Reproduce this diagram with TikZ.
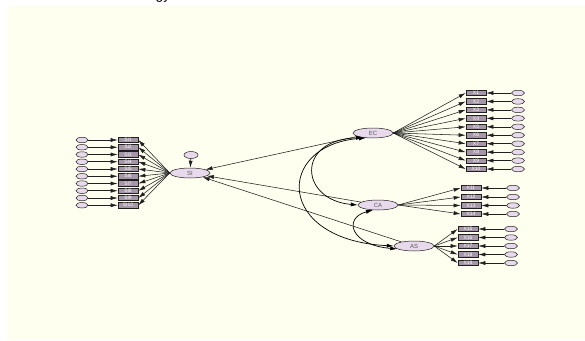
\documentclass[tikz,border=0pt]{standalone}
\usepackage{fontspec}
\setmainfont{Liberation Sans}
\usetikzlibrary{shapes.geometric,arrows.meta}
\definecolor{bgc}{HTML}{FEFFEE}
\definecolor{lav}{HTML}{E8DAEC}
\definecolor{boxc}{HTML}{A596A8}
\definecolor{edge}{HTML}{202020}
\tikzset{
  latent/.style={ellipse, draw=edge, line width=0.5pt, fill=lav, minimum width=40pt, minimum height=10pt, inner sep=0pt, font=\fontsize{6}{6}\selectfont, text=black!65},
  obs/.style={rectangle, draw=edge, line width=0.7pt, fill=boxc, minimum width=20pt, minimum height=5.5pt, inner sep=0pt, font=\fontsize{5}{5}\selectfont, text=white},
  errc/.style={ellipse, draw=edge, line width=0.5pt, fill=lav, minimum width=12pt, minimum height=5.5pt, inner sep=0pt},
  path/.style={draw=edge, line width=0.55pt, -{Latex[length=7pt,width=4pt]}},
  cov/.style={draw=black, line width=0.7pt, {Latex[length=7pt,width=4pt]}-{Latex[length=7pt,width=4pt]}}
}
\begin{document}
\begin{tikzpicture}[x=1pt,y=-1pt]
\useasboundingbox (0,0) rectangle (585,340);
\fill[white] (0,0) rectangle (585,340);
\fill[bgc] (7,6) rectangle (585,340);
\node[anchor=base, font=\fontsize{14}{14}\selectfont] (ttl) at (163,-1) {gy};
% latent variables
\node[latent] (SI) at (190,173) {SI};
\node[latent] (EC) at (373,133) {EC};
\node[latent] (CA) at (378,205) {CA};
\node[latent] (AS) at (414,246) {AS};
\node[errc, minimum width=14pt, minimum height=7pt] (eSI) at (191,155) {};
\draw[path] (eSI) -- (SI);
% SI indicators
\foreach \i in {1,...,10}{
  \pgfmathsetmacro{\yy}{140+(\i-1)*7.25}
  \node[obs] (si\i) at (128,\yy) {SI\i};
  \node[errc] (esi\i) at (82,\yy) {};
  \draw[path] (esi\i) -- (si\i);
  \draw[path] (SI.west) -- (si\i.east);
}
% EC indicators
\foreach \i in {1,...,10}{
  \pgfmathsetmacro{\yy}{93+(\i-1)*8.45}
  \node[obs] (x\i) at (476,\yy) {X\i};
  \node[errc, minimum width=13pt] (ex\i) at (518,\yy) {};
  \draw[path] (ex\i) -- (x\i);
  \draw[path] (EC.east) -- (x\i.west);
}
% CA indicators
\foreach \i/\yy in {11/188,12/197,13/205.5,14/214}{
  \node[obs] (x\i) at (471,\yy) {X\i};
  \node[errc, minimum width=13pt] (ex\i) at (513,\yy) {};
  \draw[path] (ex\i) -- (x\i);
  \draw[path] (CA.east) -- (x\i.west);
}
% AS indicators
\foreach \i/\yy in {15/229,16/237.5,17/246,18/254.5,19/263}{
  \node[obs] (x\i) at (468,\yy) {X\i};
  \node[errc, minimum width=13pt] (ex\i) at (511,\yy) {};
  \draw[path] (ex\i) -- (x\i);
  \draw[path] (AS.east) -- (x\i.west);
}
% structural paths
\draw[path] (EC) -- (SI);
\draw[path] (CA) -- (SI);
\draw[path] (AS) -- (SI);
% covariances
\draw[cov] (EC.205) .. controls (295,140) and (300,200) .. (CA.west);
\draw[cov] (EC.215) .. controls (275,145) and (275,240) .. (AS.west);
\draw[cov] (CA.225) .. controls (343,218) and (350,245) .. (AS.190);
\end{tikzpicture}
\end{document}
